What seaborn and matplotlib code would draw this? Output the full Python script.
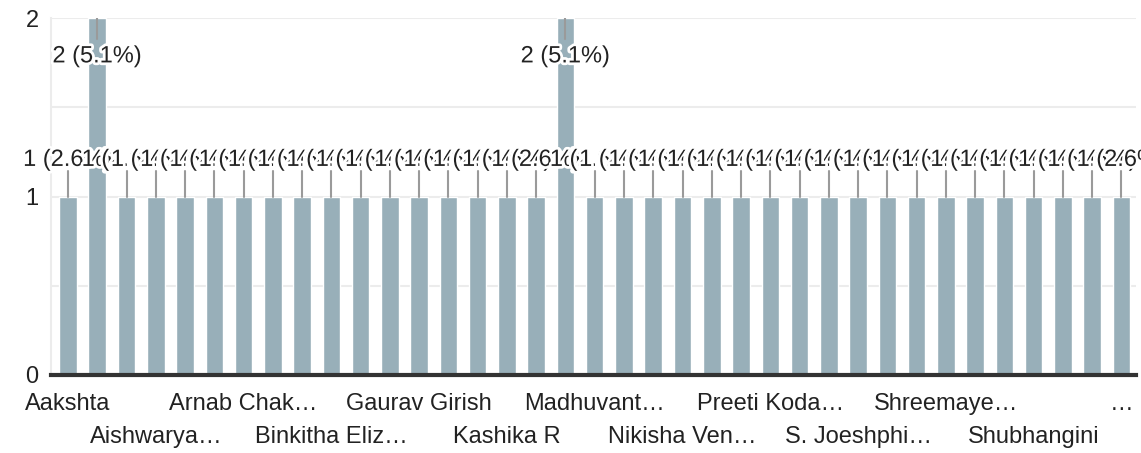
import numpy as np
import matplotlib
matplotlib.use("Agg")
import matplotlib.pyplot as plt
import matplotlib.patheffects as pe
import seaborn as sns

sns.set_style("white")
plt.rcParams['font.family'] = ['Liberation Sans', 'DejaVu Sans']

# responses per name (37 names, 39 responses in total)
counts = [1, 2, 1, 1, 1, 1, 1, 1, 1, 1, 1, 1, 1, 1, 1, 1, 1, 2, 1, 1,
          1, 1, 1, 1, 1, 1, 1, 1, 1, 1, 1, 1, 1, 1, 1, 1, 1]
# only every third name is shown on the axis
tick_names = {0: "Aakshta", 3: "Aishwarya…", 6: "Arnab Chak…", 9: "Binkitha Eliz…",
              12: "Gaurav Girish", 15: "Kashika R", 18: "Madhuvant…",
              21: "Nikisha Ven…", 24: "Preeti Koda…", 27: "S. Joeshphi…",
              30: "Shreemaye…", 33: "Shubhangini", 36: "…"}
yticks = [0, 1, 2]

total = sum(counts)
pos = np.arange(len(counts))
bar_color = "#98afb9"
txt = "#222222"
fs = 17

fig = plt.figure(figsize=(11.41, 4.53), dpi=100)
ax = fig.add_axes([0.0447, 0.1722, 0.951, 0.788])

for g in [0.5, 1, 1.5, 2]:
    ax.axhline(g, color="#ececec", lw=1.5, zorder=0)

sns.barplot(x=pos, y=counts, color=bar_color, width=0.6, saturation=1,
            ax=ax, zorder=2)

halo = [pe.withStroke(linewidth=4, foreground="white")]
for i, c in enumerate(counts):
    label = f"{c} ({c / total * 100:.1f}%)"
    if c >= 2:
        ax.plot([i, i], [2.0, 1.88], color="#9a9a9a", lw=1.5, zorder=3)
        ax.text(i, 1.785, label, ha="center", va="center", fontsize=fs,
                color=txt, path_effects=halo, zorder=4)
    else:
        ax.plot([i, i], [c, c + 0.145], color="#9a9a9a", lw=1.5, zorder=3)
        ax.text(i, c + 0.205, label, ha="center", va="center", fontsize=fs,
                color=txt, path_effects=halo, zorder=4, clip_on=False)

ax.set_xlim(-0.58, 36.5)
ax.set_ylim(0, 2)
ax.set_yticks(yticks)
ax.set_yticklabels([str(t) for t in yticks], fontsize=fs, color=txt)
ax.tick_params(axis="y", length=0, pad=9)

major = [k for k in tick_names if k % 2 == 0]
minor = [k for k in tick_names if k % 2 == 1]
ax.set_xticks(major)
ax.set_xticklabels([tick_names[k] for k in major], fontsize=fs, color=txt)
ax.set_xticks(minor, minor=True)
ax.set_xticklabels([tick_names[k] for k in minor], minor=True, fontsize=fs,
                   color=txt)
ax.tick_params(axis="x", which="major", length=0, pad=13)
ax.tick_params(axis="x", which="minor", length=0, pad=37)
ax.set_xlabel("")
ax.set_ylabel("")

for s in ["top", "right"]:
    ax.spines[s].set_visible(False)
ax.spines["left"].set_color("#ececec")
ax.spines["left"].set_linewidth(1.5)
ax.spines["bottom"].set_color("#333333")
ax.spines["bottom"].set_linewidth(3)
ax.spines["bottom"].set_zorder(5)

fig.savefig("out.png", dpi=100)
